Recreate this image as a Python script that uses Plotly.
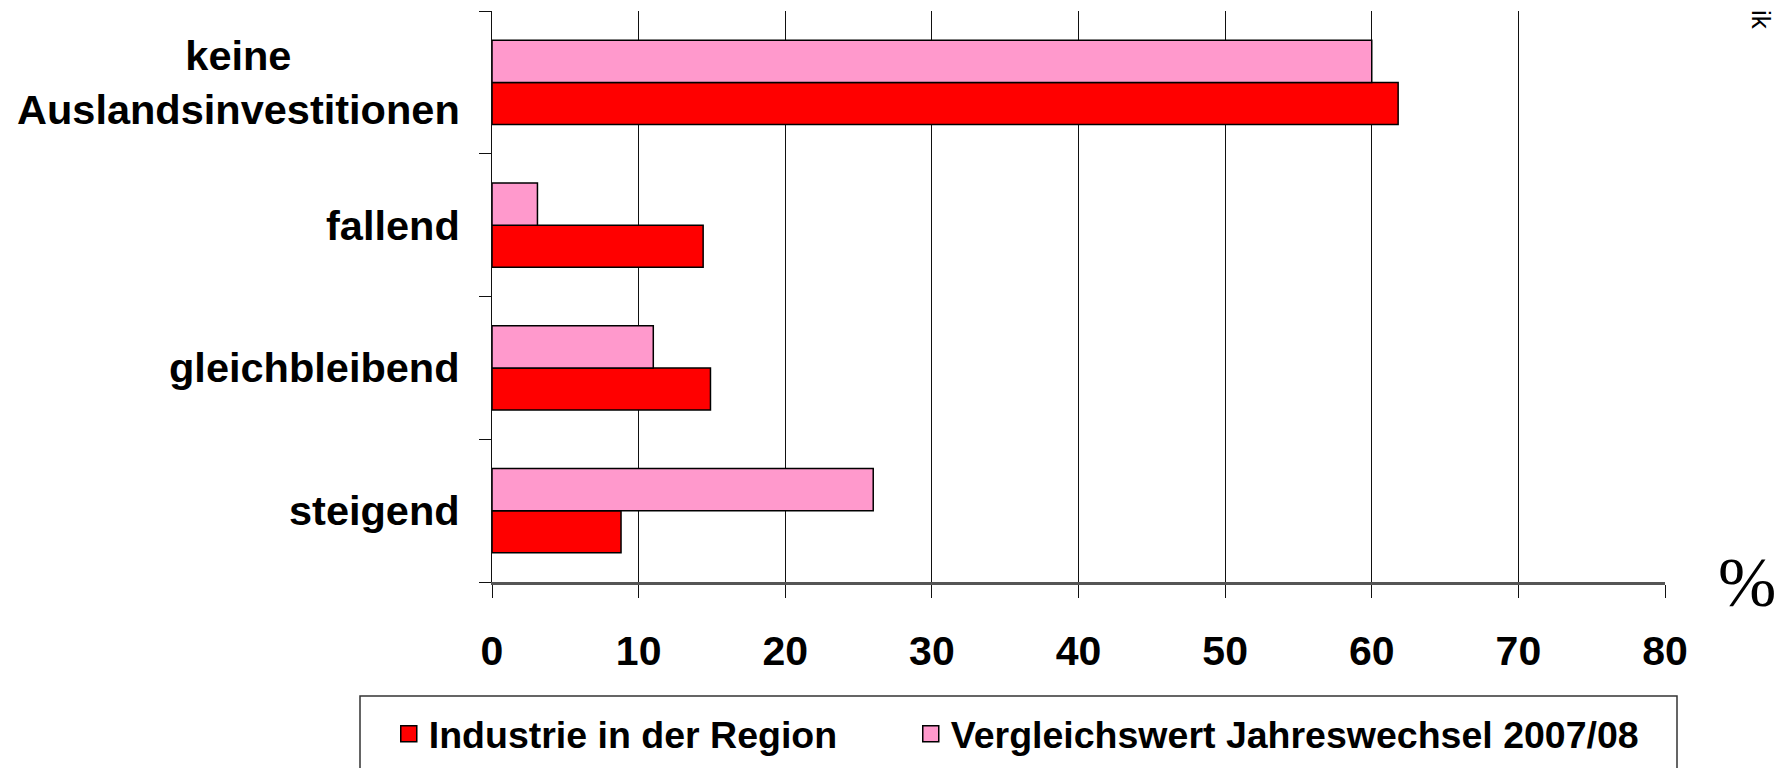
import plotly.graph_objects as go

# categories, bottom to top as drawn on the y axis
categories = ["steigend", "gleichbleibend", "fallend", "keine<br>Auslandsinvestitionen"]
industrie = [8.8, 14.9, 14.4, 61.8]
vergleich = [26.0, 11.0, 3.1, 60.0]
series_names = ["Industrie in der Region", "Vergleichswert Jahreswechsel 2007/08"]
series_colors = ["#FF0000", "#FF99CC"]
x_ticks = [0, 10, 20, 30, 40, 50, 60, 70, 80]

FONT = "Liberation Sans, Arial, sans-serif"
LEGEND_FONT = dict(family=FONT, size=37.5, color="black", weight="bold")

fig = go.Figure()
for vals, name, color in zip([industrie, vergleich], series_names, series_colors):
    fig.add_trace(go.Bar(
        y=categories, x=vals, orientation="h", name=name, showlegend=False,
        marker=dict(color=color, line=dict(color="#000000", width=1.5)),
    ))

# legend entries with bigger square swatches than the bar default
for name, color, leg in zip(series_names, series_colors, ["legend", "legend2"]):
    fig.add_trace(go.Scatter(
        x=[None], y=[None], mode="markers", name=name, legend=leg,
        marker=dict(symbol="square", size=16, color=color,
                    line=dict(color="#000000", width=1.5)),
    ))

# category labels, centred lines like the original
for cat in categories:
    fig.add_annotation(
        x=0, xref="paper", y=cat, yref="y", xanchor="right", xshift=-30,
        text=cat, showarrow=False, align="center",
        font=dict(family=FONT, size=41.5, color="black", weight="bold"),
    )

fig.add_annotation(
    x=1.0963, y=-0.072, xref="paper", yref="paper", text="%", showarrow=False,
    font=dict(family="Liberation Serif, Times New Roman, serif", size=70, color="black"),
)
fig.add_annotation(
    x=1.082, y=1.005, xref="paper", yref="paper", text="ik", textangle=90,
    showarrow=False, yanchor="top", xanchor="center",
    font=dict(family=FONT, size=26, color="black"),
)

# legend frame (runs off the bottom edge as in the original)
fig.add_shape(
    type="rect", xref="paper", yref="paper",
    x0=(360 - 492) / 1173, x1=(1677 - 492) / 1173,
    y0=(582 - 800) / 571, y1=(582 - 696) / 571,
    line=dict(color="#333333", width=1.5), fillcolor="rgba(0,0,0,0)",
)

# the page body adds an 8px offset, so the figure is 8px smaller on each side
fig.update_layout(
    width=1781, height=760,
    margin=dict(l=484, r=124, t=3, b=186, autoexpand=False),
    paper_bgcolor="white", plot_bgcolor="white",
    barmode="group", bargap=0.41, bargroupgap=0,
    font=dict(family=FONT, color="black"),
    showlegend=True,
    legend=dict(
        orientation="h", x=-0.088, xanchor="left", y=-0.266, yanchor="middle",
        font=LEGEND_FONT, bgcolor="rgba(0,0,0,0)", itemsizing="trace",
    ),
    legend2=dict(
        orientation="h", x=0.357, xanchor="left", y=-0.266, yanchor="middle",
        font=LEGEND_FONT, bgcolor="rgba(0,0,0,0)", itemsizing="trace",
    ),
)
fig.update_xaxes(
    range=[0, 80], tickvals=x_ticks, showgrid=True, gridcolor="#111111", gridwidth=1,
    showline=True, linecolor="#555555", linewidth=2.5, zeroline=False,
    ticks="outside", ticklen=13, tickcolor="#111111", tickwidth=1,
    tickfont=dict(family=FONT, size=41, color="black", weight="bold"),
    ticklabelstandoff=18,
)
fig.update_yaxes(
    type="category", categoryorder="array", categoryarray=categories,
    range=[-0.5, 3.5], showgrid=False, showticklabels=False,
    showline=True, linecolor="#111111", linewidth=1, zeroline=False,
    ticks="outside", tickson="boundaries", ticklen=12, tickcolor="#111111",
)

fig.write_html("out.html")
